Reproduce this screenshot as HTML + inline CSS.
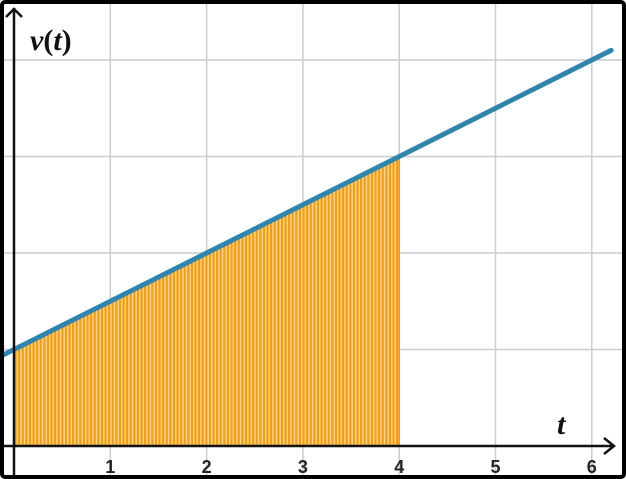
<!DOCTYPE html>
<html><head><meta charset="utf-8"><style>
html,body{margin:0;padding:0;background:#fff}
svg{display:block}
text{font-family:"Liberation Sans",sans-serif}
</style></head><body>
<svg id="chart" width="626" height="479" viewBox="0 0 626 479">
<defs>
<pattern id="stripes" patternUnits="userSpaceOnUse" width="3.6" height="10">
<rect width="3.6" height="10" fill="#f59e12"/>
<rect x="2.3" width="1.3" height="10" fill="#fcd9a0"/>
</pattern>
<clipPath id="clip"><rect x="4" y="4" width="618" height="471"/></clipPath>
</defs>
<rect x="2" y="2" width="622" height="475" rx="3" fill="#fff" stroke="#000" stroke-width="4"/>
<g id="grid" clip-path="url(#clip)"></g>
<g id="marks" clip-path="url(#clip)"></g>
<g id="axes"></g>
</svg>
<script>
const xTicks=[1,2,3,4,5,6];
const yGrid=[1,2,3,4];
const lineStart=[-0.2,6.2];
const intercept=[1];
const slope=[0.5];
const areaRange=[0,4];
const NS='http://www.w3.org/2000/svg';
const X=v=>14+v*96.3, Y=v=>446-v*96.5;
const f=t=>intercept[0]+slope[0]*t;
const grid=document.getElementById('grid'),marks=document.getElementById('marks'),axes=document.getElementById('axes');
function mk(tag,attrs,parent){const e=document.createElementNS(NS,tag);for(const k in attrs)e.setAttribute(k,attrs[k]);parent.appendChild(e);return e;}
for(let i=-1;i<=7;i++){if(i===0)continue;
const l=mk('line',{x1:X(i),x2:X(i),y1:0,y2:479,stroke:'#cccccc','stroke-width':1.5},grid);

}
for(const v of yGrid){
const l=mk('line',{x1:0,x2:626,y1:Y(v),y2:Y(v),stroke:'#cccccc','stroke-width':1.5},grid);

}
const a0=areaRange[0],a1=areaRange[1];
const area=mk('polygon',{points:`${X(a0)},${Y(0)} ${X(a0)},${Y(f(a0))} ${X(a1)},${Y(f(a1))} ${X(a1)},${Y(0)}`,fill:'url(#stripes)',stroke:'#f39a10','stroke-width':1.5},marks);


const ln=mk('line',{x1:X(lineStart[0]),y1:Y(f(lineStart[0])),x2:X(lineStart[1]),y2:Y(f(lineStart[1])),stroke:'#2e86b0','stroke-width':5,'stroke-linecap':'round'},marks);


const xa=mk('line',{x1:4,y1:446,x2:614,y2:446,stroke:'#111','stroke-width':2.5},axes);


const xh=mk('polyline',{points:'604,438 614,446 604,454',fill:'none',stroke:'#111','stroke-width':2.5},axes);


const ya=mk('line',{x1:14,y1:8,x2:14,y2:475,stroke:'#111','stroke-width':2.5},axes);


const yh=mk('polyline',{points:'6,17 14,9 22,17',fill:'none',stroke:'#111','stroke-width':2.5},axes);


for(const t of xTicks){
const tx=mk('text',{x:X(t),y:473,'text-anchor':'middle','font-size':18,'font-weight':'bold',fill:'#222'},axes);
tx.textContent=t;

}
const yt=mk('text',{x:30,y:50,'font-size':30,'font-weight':'bold',fill:'#111'},axes);
yt.style.fontFamily='"Liberation Serif",serif';
yt.innerHTML='<tspan font-style="italic">v</tspan>(<tspan font-style="italic">t</tspan>)';


const xt=mk('text',{x:557,y:434,'font-size':30,'font-style':'italic','font-weight':'bold',fill:'#111'},axes);
xt.style.fontFamily='"Liberation Serif",serif';
xt.textContent='t';


</script>
</body></html>
